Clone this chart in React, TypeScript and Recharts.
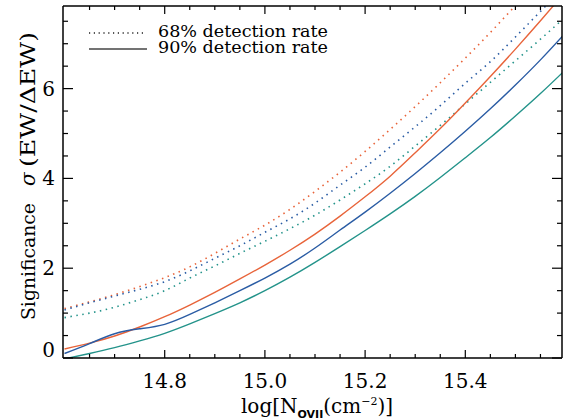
import { LineChart, Line, XAxis, YAxis } from 'recharts';

// log N(OVII) grid and significance curves
const logN = [
  14.6, 14.65, 14.7, 14.75, 14.8, 14.85, 14.9, 14.95, 15.0, 15.05, 15.1,
  15.15, 15.2, 15.25, 15.3, 15.35, 15.4, 15.45, 15.5, 15.55, 15.6,
];

// 68% detection rate (dotted)
const orange68 = [1.1, 1.25, 1.41, 1.59, 1.79, 2.03, 2.33, 2.65, 2.96, 3.31, 3.71, 4.14, 4.6, 5.09, 5.6, 6.13, 6.68, 7.25, 7.85, 8.45, 9.05];
const blue68 = [1.07, 1.23, 1.38, 1.53, 1.7, 1.94, 2.22, 2.5, 2.8, 3.1, 3.45, 3.85, 4.25, 4.7, 5.15, 5.62, 6.12, 6.6, 7.15, 7.72, 8.3];
const teal68 = [0.9, 1.0, 1.13, 1.3, 1.5, 1.78, 2.05, 2.33, 2.6, 2.88, 3.18, 3.52, 3.88, 4.27, 4.72, 5.18, 5.66, 6.14, 6.62, 7.1, 7.6];

// 90% detection rate (solid)
const orange90 = [0.2, 0.33, 0.49, 0.69, 0.92, 1.18, 1.46, 1.76, 2.07, 2.4, 2.76, 3.16, 3.59, 4.05, 4.57, 5.11, 5.68, 6.27, 6.88, 7.51, 8.16];
const blue90 = [0.1, 0.32, 0.54, 0.65, 0.75, 0.97, 1.23, 1.5, 1.78, 2.09, 2.45, 2.85, 3.25, 3.67, 4.11, 4.57, 5.05, 5.55, 6.08, 6.64, 7.24];
const teal90 = [-0.02, 0.1, 0.23, 0.38, 0.55, 0.76, 0.99, 1.23, 1.5, 1.8, 2.13, 2.48, 2.84, 3.21, 3.6, 4.02, 4.46, 4.91, 5.39, 5.89, 6.42];

const xTicks = [14.65, 14.7, 14.75, 14.8, 14.85, 14.9, 14.95, 15.0, 15.05, 15.1, 15.15, 15.2, 15.25, 15.3, 15.35, 15.4, 15.45, 15.5, 15.55];
const xMajor = [14.8, 15.0, 15.2, 15.4];
const yTicks = [0, 0.5, 1, 1.5, 2, 2.5, 3, 3.5, 4, 4.5, 5, 5.5, 6, 6.5, 7, 7.5];
const yMajor = [0, 2, 4, 6];

const ORANGE = '#e8643a';
const BLUE = '#2a5ca4';
const TEAL = '#23938a';
const FONT = '"DejaVu Serif", serif';

const data = logN.map((x, i) => ({
  x,
  o68: orange68[i],
  b68: blue68[i],
  t68: teal68[i],
  o90: orange90[i],
  b90: blue90[i],
  t90: teal90[i],
}));

const isIn = (list: number[], v: number) => list.some((m) => Math.abs(m - v) < 1e-6);

function BottomTick({ x, y, payload }: any) {
  const major = isIn(xMajor, payload.value);
  return (
    <g>
      <line x1={x} x2={x} y1={y} y2={y - (major ? 8 : 4)} stroke="#000" strokeWidth={1.2} />
      {major && (
        <text x={x} y={y + 30} textAnchor="middle" fontFamily={FONT} fontSize={20} fill="#000">
          {payload.value.toFixed(1)}
        </text>
      )}
    </g>
  );
}

function TopTick({ x, y, payload }: any) {
  const major = isIn(xMajor, payload.value);
  return <line x1={x} x2={x} y1={y} y2={y + (major ? 8 : 4)} stroke="#000" strokeWidth={1.2} />;
}

function LeftTick({ x, y, payload }: any) {
  const major = isIn(yMajor, payload.value);
  return (
    <g>
      <line x1={x} x2={x + (major ? 10 : 5)} y1={y} y2={y} stroke="#000" strokeWidth={1.2} />
      {major && (
        <text x={x - 8} y={payload.value === 0 ? y - 1 : y + 7} textAnchor="end" fontFamily={FONT} fontSize={20} fill="#000">
          {payload.value}
        </text>
      )}
    </g>
  );
}

function RightTick({ x, y, payload }: any) {
  const major = isIn(yMajor, payload.value);
  return <line x1={x} x2={x - (major ? 10 : 5)} y1={y} y2={y} stroke="#000" strokeWidth={1.2} />;
}

export default function App() {
  const axisLine = { stroke: '#000', strokeWidth: 1.5 };
  return (
    <div style={{ position: 'absolute', left: 0, top: 0, width: 563, height: 420, background: '#fff' }}>
      <LineChart width={563} height={420} data={data} margin={{ top: 0, right: 0, bottom: 0, left: 0 }}>
        <XAxis
          dataKey="x"
          type="number"
          domain={[14.597, 15.593]}
          allowDataOverflow
          ticks={xTicks}
          interval={0}
          height={62}
          tickSize={0}
          tickMargin={0}
          tickLine={false}
          axisLine={axisLine}
          tick={<BottomTick />}
        />
        <XAxis
          xAxisId="top"
          orientation="top"
          dataKey="x"
          type="number"
          domain={[14.597, 15.593]}
          allowDataOverflow
          ticks={xTicks}
          interval={0}
          height={6}
          tickSize={0}
          tickMargin={0}
          tickLine={false}
          axisLine={axisLine}
          tick={<TopTick />}
        />
        <YAxis
          type="number"
          domain={[0, 7.84]}
          allowDataOverflow
          ticks={yTicks}
          interval={0}
          width={63}
          tickSize={0}
          tickMargin={0}
          tickLine={false}
          axisLine={axisLine}
          tick={<LeftTick />}
        />
        <YAxis
          yAxisId="right"
          orientation="right"
          type="number"
          domain={[0, 7.84]}
          allowDataOverflow
          ticks={yTicks}
          interval={0}
          width={1}
          tickSize={0}
          tickMargin={0}
          tickLine={false}
          axisLine={axisLine}
          tick={<RightTick />}
        />
        <Line dataKey="o68" type="natural" stroke={ORANGE} strokeWidth={1.6} strokeDasharray="1.5 4.5" dot={false} isAnimationActive={false} />
        <Line dataKey="b68" type="natural" stroke={BLUE} strokeWidth={1.6} strokeDasharray="1.5 4.5" dot={false} isAnimationActive={false} />
        <Line dataKey="t68" type="natural" stroke={TEAL} strokeWidth={1.6} strokeDasharray="1.5 4.5" dot={false} isAnimationActive={false} />
        <Line dataKey="o90" type="natural" stroke={ORANGE} strokeWidth={1.4} dot={false} isAnimationActive={false} />
        <Line dataKey="b90" type="natural" stroke={BLUE} strokeWidth={1.4} dot={false} isAnimationActive={false} />
        <Line dataKey="t90" type="natural" stroke={TEAL} strokeWidth={1.4} dot={false} isAnimationActive={false} />
      </LineChart>

      <svg width={563} height={420} style={{ position: 'absolute', left: 0, top: 0, pointerEvents: 'none' }}>
        {/* legend */}
        <line x1={89} x2={146} y1={33} y2={33} stroke="#222" strokeWidth={1.4} strokeDasharray="1.2 3.6" />
        <text x={158} y={37} fontFamily={FONT} fontSize={16} fill="#000" textLength={170} lengthAdjust="spacingAndGlyphs">
          68% detection rate
        </text>
        <line x1={89} x2={147} y1={49} y2={49} stroke="#444" strokeWidth={1.4} />
        <text x={158} y={53} fontFamily={FONT} fontSize={16} fill="#000" textLength={170} lengthAdjust="spacingAndGlyphs">
          90% detection rate
        </text>

        {/* y title */}
        <g fontFamily={FONT} fontSize={19} fill="#000">
          <text x={35} y={320} transform="rotate(-90 35 320)" textLength={117} lengthAdjust="spacingAndGlyphs">
            Significance
          </text>
          <text x={35} y={186} transform="rotate(-90 35 186)" fontStyle="italic" fontSize={20}>
            σ
          </text>
          <text x={35} y={167} transform="rotate(-90 35 167)" fontSize={20} textLength={135} lengthAdjust="spacingAndGlyphs">
            (EW/ΔEW)
          </text>
        </g>

        {/* x title */}
        <text x={317} y={413} textAnchor="middle" fontFamily={FONT} fontSize={20} fill="#000">
          log[N
          <tspan fontFamily='"DejaVu Sans", sans-serif' fontWeight="bold" fontSize={11} dy={5}>OVII</tspan>
          <tspan dy={-5}>(cm</tspan>
          <tspan fontSize={11} dy={-8}>−2</tspan>
          <tspan dy={8}>)]</tspan>
        </text>
      </svg>
    </div>
  );
}
